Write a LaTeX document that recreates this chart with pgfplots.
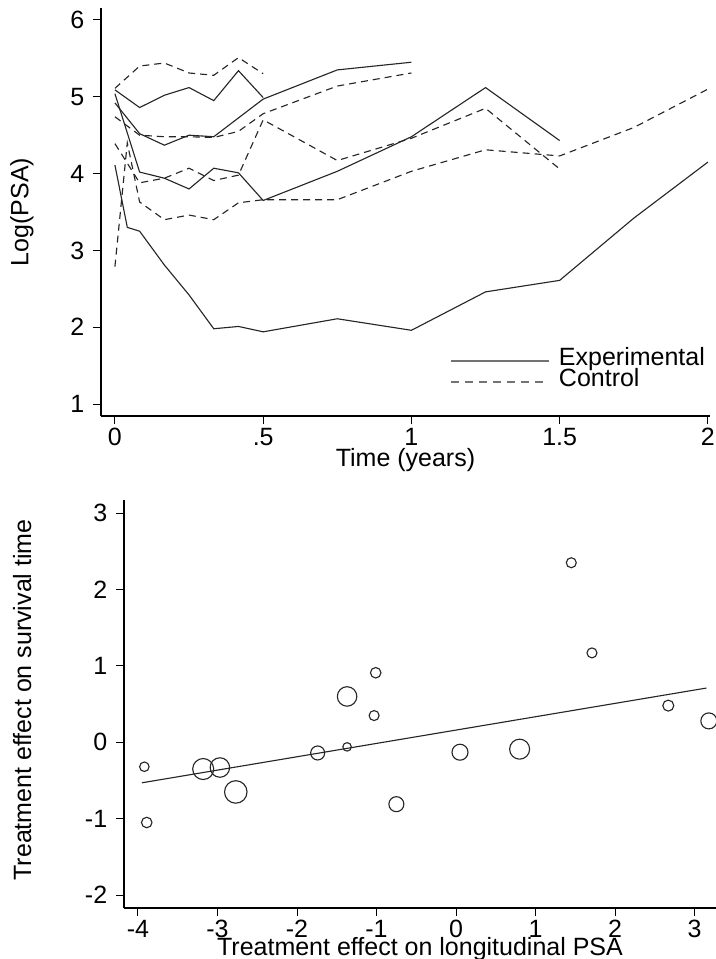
\documentclass[border=0pt]{standalone}
\usepackage{fontspec}
\setmainfont{Liberation Sans}
\usepackage{pgfplots}
\pgfplotsset{compat=1.18}
\usepackage{pgfplotstable}

% Experimental (solid) and control (dashed) PSA profiles
\pgfplotstableread{
t y
0 5.09
0.0833 4.86
0.1667 5.02
0.25 5.12
0.3333 4.95
0.4167 5.34
0.5 4.99
}\expA
\pgfplotstableread{
t y
0 4.92
0.0833 4.52
0.1667 4.37
0.25 4.50
0.3333 4.48
0.5 4.97
0.75 5.35
1 5.45
}\expB
\pgfplotstableread{
t y
0 5.04
0.0833 4.02
0.1667 3.94
0.25 3.80
0.3333 4.07
0.4167 4.01
0.5 3.65
0.75 4.03
1 4.48
1.25 5.12
1.5 4.43
}\expC
\pgfplotstableread{
t y
0 4.11
0.0417 3.30
0.0833 3.25
0.1667 2.81
0.25 2.42
0.3333 1.98
0.4167 2.01
0.5 1.94
0.75 2.11
1 1.96
1.25 2.46
1.5 2.61
1.75 3.42
2 4.15
}\expD
\pgfplotstableread{
t y
0 5.11
0.0833 5.40
0.1667 5.44
0.25 5.31
0.3333 5.28
0.4167 5.51
0.5 5.30
}\ctlA
\pgfplotstableread{
t y
0 4.74
0.0833 4.50
0.1667 4.48
0.25 4.48
0.3333 4.47
0.4167 4.55
0.5 4.78
0.75 5.14
1 5.31
}\ctlB
\pgfplotstableread{
t y
0 4.39
0.0833 3.88
0.1667 3.94
0.25 4.07
0.3333 3.91
0.4167 3.98
0.5 4.70
0.75 4.17
1 4.46
1.25 4.85
1.5 4.06
}\ctlC
\pgfplotstableread{
t y
0 2.79
0.0417 4.40
0.0833 3.63
0.1667 3.40
0.25 3.46
0.3333 3.40
0.4167 3.62
0.5 3.66
0.75 3.66
1 4.03
1.25 4.31
1.5 4.23
1.75 4.60
2 5.10
}\ctlD

% trial-level treatment effects, r = circle radius (pt)
\pgfplotstableread{
x y r
-3.92 -0.32 1.9
-3.89 -1.05 2.1
-3.18 -0.35 4.2
-2.97 -0.33 3.9
-2.77 -0.65 4.5
-1.74 -0.14 2.8
-1.37 -0.06 1.7
-1.37 0.60 3.9
-1.03 0.35 2.0
-1.01 0.91 2.1
-0.75 -0.81 3.0
0.05 -0.13 3.2
0.80 -0.09 4.0
1.45 2.35 2.0
1.71 1.17 2.0
2.67 0.48 2.2
3.18 0.28 3.2
}\trials

\pgfplotsset{
  statastyle/.style={
    scale only axis,
    axis x line*=bottom, axis y line*=left,
    axis line style={black, line width=0.5pt},
    tick align=outside, major tick length=3.2pt,
    tick style={black, line width=0.4pt},
    xticklabel style={yshift=2pt},
    clip=false,
  },
  exper/.style={black!85, line width=0.45pt, no markers, forget plot},
  contr/.style={black!85, line width=0.45pt, no markers, forget plot,
    dash pattern=on 2.8pt off 2pt},
}

\begin{document}
\begin{tikzpicture}
\useasboundingbox (0,0) rectangle (286.4pt,-383.6pt);

\begin{axis}[statastyle,
    at={(40.4pt,-166.4pt)}, anchor=south west,
    width=243.6pt, height=163.2pt,
    xmin=-0.047, xmax=2.007, ymin=0.844, ymax=6.156,
    xtick={0,0.5,1,1.5,2}, xticklabels={0,.5,1,1.5,2},
    ytick={1,2,3,4,5,6}, yticklabels={1,2,3,4,5,6},
    xlabel={Time (years)}, ylabel={Log(PSA)},
    xlabel style={at={(axis description cs:0.5,-0.108)}, anchor=center},
    ylabel style={at={(axis description cs:-0.13,0.5)}, anchor=center, rotate=0},
    legend style={draw=none, fill=none, at={(0.573,0.162)}, anchor=north west,
      inner sep=0pt, column sep=3.6pt,
      nodes={inner sep=0pt, text height=6pt, text depth=2.4pt}},
    legend cell align=left,
    legend image code/.code={\draw[#1] (0pt,0pt) -- (39.2pt,0pt);},
  ]
  \addlegendimage{black!55, line width=0.6pt}
  \addlegendentry{Experimental}
  \addlegendimage{black!55, line width=0.6pt, dash pattern=on 3pt off 2.6pt}
  \addlegendentry{Control}
  \addplot[exper] table[x=t,y=y] {\expA};
  \addplot[exper] table[x=t,y=y] {\expB};
  \addplot[exper] table[x=t,y=y] {\expC};
  \addplot[exper] table[x=t,y=y] {\expD};
  \addplot[contr] table[x=t,y=y] {\ctlA};
  \addplot[contr] table[x=t,y=y] {\ctlB};
  \addplot[contr] table[x=t,y=y] {\ctlC};
  \addplot[contr] table[x=t,y=y] {\ctlD};
\end{axis}

\begin{axis}[statastyle,
    at={(49.6pt,-363.2pt)}, anchor=south west,
    width=236.8pt, height=163.2pt,
    xmin=-4.176, xmax=3.27, ymin=-2.169, ymax=3.171,
    xtick={-4,-3,-2,-1,0,1,2,3}, xticklabels={-4,-3,-2,-1,0,1,2,3},
    ytick={-2,-1,0,1,2,3}, yticklabels={-2,-1,0,1,2,3},
    xlabel={Treatment effect on longitudinal PSA},
    ylabel={Treatment effect on survival time},
    xlabel style={at={(axis description cs:0.5,-0.1)}, anchor=center},
    ylabel style={at={(axis description cs:-0.172,0.51)}, anchor=center, rotate=0},
  ]
  \addplot[scatter, only marks, mark=o, line width=0.45pt,
    scatter/use mapped color={draw=black!85, fill=white, fill opacity=0},
    visualization depends on={\thisrow{r} \as \rad},
    scatter/@pre marker code/.append style={/tikz/mark size=\rad}]
    table[x=x,y=y] {\trials};
  \addplot[black!85, line width=0.45pt] coordinates {(-3.95,-0.53) (3.15,0.71)};
\end{axis}
\end{tikzpicture}
\end{document}
